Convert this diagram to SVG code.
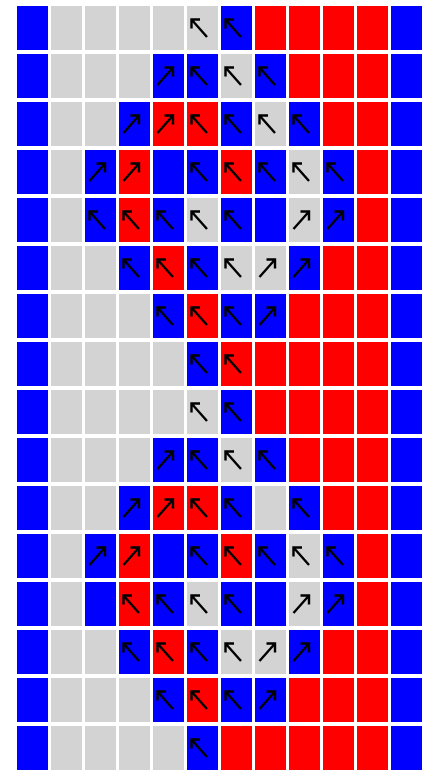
<svg xmlns="http://www.w3.org/2000/svg" width="427" height="772" viewBox="0 0 427 772">
<style>
.b{fill:#0000ff}.r{fill:#ff0000}.g{fill:#d3d3d3}
.ar{fill:none;stroke:#000;stroke-width:2.4;stroke-linejoin:miter}
</style>
<defs>
<path id="ul" class="ar" d="M13 13.5H4.5V22.5M4.5 13.5L20 31"/>
<path id="ur" class="ar" d="M11.5 13.5H20V22.5M20 13.5L4.5 31"/>
</defs>
<rect x="0" y="0" width="427" height="772" fill="#fff"/>
<g id="row0">
<g id="c0-0"><rect class="b" x="17" y="6" width="31" height="44"/></g>
<g id="c0-1"><rect class="g" x="51" y="6" width="31" height="44"/></g>
<g id="c0-2"><rect class="g" x="85" y="6" width="31" height="44"/></g>
<g id="c0-3"><rect class="g" x="119" y="6" width="31" height="44"/></g>
<g id="c0-4"><rect class="g" x="153" y="6" width="31" height="44"/></g>
<g id="c0-5"><rect class="g" x="187" y="6" width="31" height="44"/><use href="#ul" x="187" y="6"/></g>
<g id="c0-6"><rect class="b" x="221" y="6" width="31" height="44"/><use href="#ul" x="221" y="6"/></g>
<g id="c0-7"><rect class="r" x="255" y="6" width="31" height="44"/></g>
<g id="c0-8"><rect class="r" x="289" y="6" width="31" height="44"/></g>
<g id="c0-9"><rect class="r" x="323" y="6" width="31" height="44"/></g>
<g id="c0-10"><rect class="r" x="357" y="6" width="31" height="44"/></g>
<g id="c0-11"><rect class="b" x="391" y="6" width="31" height="44"/></g>
</g>
<g id="row1">
<g id="c1-0"><rect class="b" x="17" y="54" width="31" height="44"/></g>
<g id="c1-1"><rect class="g" x="51" y="54" width="31" height="44"/></g>
<g id="c1-2"><rect class="g" x="85" y="54" width="31" height="44"/></g>
<g id="c1-3"><rect class="g" x="119" y="54" width="31" height="44"/></g>
<g id="c1-4"><rect class="b" x="153" y="54" width="31" height="44"/><use href="#ur" x="153" y="54"/></g>
<g id="c1-5"><rect class="b" x="187" y="54" width="31" height="44"/><use href="#ul" x="187" y="54"/></g>
<g id="c1-6"><rect class="g" x="221" y="54" width="31" height="44"/><use href="#ul" x="221" y="54"/></g>
<g id="c1-7"><rect class="b" x="255" y="54" width="31" height="44"/><use href="#ul" x="255" y="54"/></g>
<g id="c1-8"><rect class="r" x="289" y="54" width="31" height="44"/></g>
<g id="c1-9"><rect class="r" x="323" y="54" width="31" height="44"/></g>
<g id="c1-10"><rect class="r" x="357" y="54" width="31" height="44"/></g>
<g id="c1-11"><rect class="b" x="391" y="54" width="31" height="44"/></g>
</g>
<g id="row2">
<g id="c2-0"><rect class="b" x="17" y="102" width="31" height="44"/></g>
<g id="c2-1"><rect class="g" x="51" y="102" width="31" height="44"/></g>
<g id="c2-2"><rect class="g" x="85" y="102" width="31" height="44"/></g>
<g id="c2-3"><rect class="b" x="119" y="102" width="31" height="44"/><use href="#ur" x="119" y="102"/></g>
<g id="c2-4"><rect class="r" x="153" y="102" width="31" height="44"/><use href="#ur" x="153" y="102"/></g>
<g id="c2-5"><rect class="r" x="187" y="102" width="31" height="44"/><use href="#ul" x="187" y="102"/></g>
<g id="c2-6"><rect class="b" x="221" y="102" width="31" height="44"/><use href="#ul" x="221" y="102"/></g>
<g id="c2-7"><rect class="g" x="255" y="102" width="31" height="44"/><use href="#ul" x="255" y="102"/></g>
<g id="c2-8"><rect class="b" x="289" y="102" width="31" height="44"/><use href="#ul" x="289" y="102"/></g>
<g id="c2-9"><rect class="r" x="323" y="102" width="31" height="44"/></g>
<g id="c2-10"><rect class="r" x="357" y="102" width="31" height="44"/></g>
<g id="c2-11"><rect class="b" x="391" y="102" width="31" height="44"/></g>
</g>
<g id="row3">
<g id="c3-0"><rect class="b" x="17" y="150" width="31" height="44"/></g>
<g id="c3-1"><rect class="g" x="51" y="150" width="31" height="44"/></g>
<g id="c3-2"><rect class="b" x="85" y="150" width="31" height="44"/><use href="#ur" x="85" y="150"/></g>
<g id="c3-3"><rect class="r" x="119" y="150" width="31" height="44"/><use href="#ur" x="119" y="150"/></g>
<g id="c3-4"><rect class="b" x="153" y="150" width="31" height="44"/></g>
<g id="c3-5"><rect class="b" x="187" y="150" width="31" height="44"/><use href="#ul" x="187" y="150"/></g>
<g id="c3-6"><rect class="r" x="221" y="150" width="31" height="44"/><use href="#ul" x="221" y="150"/></g>
<g id="c3-7"><rect class="b" x="255" y="150" width="31" height="44"/><use href="#ul" x="255" y="150"/></g>
<g id="c3-8"><rect class="g" x="289" y="150" width="31" height="44"/><use href="#ul" x="289" y="150"/></g>
<g id="c3-9"><rect class="b" x="323" y="150" width="31" height="44"/><use href="#ul" x="323" y="150"/></g>
<g id="c3-10"><rect class="r" x="357" y="150" width="31" height="44"/></g>
<g id="c3-11"><rect class="b" x="391" y="150" width="31" height="44"/></g>
</g>
<g id="row4">
<g id="c4-0"><rect class="b" x="17" y="198" width="31" height="44"/></g>
<g id="c4-1"><rect class="g" x="51" y="198" width="31" height="44"/></g>
<g id="c4-2"><rect class="b" x="85" y="198" width="31" height="44"/><use href="#ul" x="85" y="198"/></g>
<g id="c4-3"><rect class="r" x="119" y="198" width="31" height="44"/><use href="#ul" x="119" y="198"/></g>
<g id="c4-4"><rect class="b" x="153" y="198" width="31" height="44"/><use href="#ul" x="153" y="198"/></g>
<g id="c4-5"><rect class="g" x="187" y="198" width="31" height="44"/><use href="#ul" x="187" y="198"/></g>
<g id="c4-6"><rect class="b" x="221" y="198" width="31" height="44"/><use href="#ul" x="221" y="198"/></g>
<g id="c4-7"><rect class="b" x="255" y="198" width="31" height="44"/></g>
<g id="c4-8"><rect class="g" x="289" y="198" width="31" height="44"/><use href="#ur" x="289" y="198"/></g>
<g id="c4-9"><rect class="b" x="323" y="198" width="31" height="44"/><use href="#ur" x="323" y="198"/></g>
<g id="c4-10"><rect class="r" x="357" y="198" width="31" height="44"/></g>
<g id="c4-11"><rect class="b" x="391" y="198" width="31" height="44"/></g>
</g>
<g id="row5">
<g id="c5-0"><rect class="b" x="17" y="246" width="31" height="44"/></g>
<g id="c5-1"><rect class="g" x="51" y="246" width="31" height="44"/></g>
<g id="c5-2"><rect class="g" x="85" y="246" width="31" height="44"/></g>
<g id="c5-3"><rect class="b" x="119" y="246" width="31" height="44"/><use href="#ul" x="119" y="246"/></g>
<g id="c5-4"><rect class="r" x="153" y="246" width="31" height="44"/><use href="#ul" x="153" y="246"/></g>
<g id="c5-5"><rect class="b" x="187" y="246" width="31" height="44"/><use href="#ul" x="187" y="246"/></g>
<g id="c5-6"><rect class="g" x="221" y="246" width="31" height="44"/><use href="#ul" x="221" y="246"/></g>
<g id="c5-7"><rect class="g" x="255" y="246" width="31" height="44"/><use href="#ur" x="255" y="246"/></g>
<g id="c5-8"><rect class="b" x="289" y="246" width="31" height="44"/><use href="#ur" x="289" y="246"/></g>
<g id="c5-9"><rect class="r" x="323" y="246" width="31" height="44"/></g>
<g id="c5-10"><rect class="r" x="357" y="246" width="31" height="44"/></g>
<g id="c5-11"><rect class="b" x="391" y="246" width="31" height="44"/></g>
</g>
<g id="row6">
<g id="c6-0"><rect class="b" x="17" y="294" width="31" height="44"/></g>
<g id="c6-1"><rect class="g" x="51" y="294" width="31" height="44"/></g>
<g id="c6-2"><rect class="g" x="85" y="294" width="31" height="44"/></g>
<g id="c6-3"><rect class="g" x="119" y="294" width="31" height="44"/></g>
<g id="c6-4"><rect class="b" x="153" y="294" width="31" height="44"/><use href="#ul" x="153" y="294"/></g>
<g id="c6-5"><rect class="r" x="187" y="294" width="31" height="44"/><use href="#ul" x="187" y="294"/></g>
<g id="c6-6"><rect class="b" x="221" y="294" width="31" height="44"/><use href="#ul" x="221" y="294"/></g>
<g id="c6-7"><rect class="b" x="255" y="294" width="31" height="44"/><use href="#ur" x="255" y="294"/></g>
<g id="c6-8"><rect class="r" x="289" y="294" width="31" height="44"/></g>
<g id="c6-9"><rect class="r" x="323" y="294" width="31" height="44"/></g>
<g id="c6-10"><rect class="r" x="357" y="294" width="31" height="44"/></g>
<g id="c6-11"><rect class="b" x="391" y="294" width="31" height="44"/></g>
</g>
<g id="row7">
<g id="c7-0"><rect class="b" x="17" y="342" width="31" height="44"/></g>
<g id="c7-1"><rect class="g" x="51" y="342" width="31" height="44"/></g>
<g id="c7-2"><rect class="g" x="85" y="342" width="31" height="44"/></g>
<g id="c7-3"><rect class="g" x="119" y="342" width="31" height="44"/></g>
<g id="c7-4"><rect class="g" x="153" y="342" width="31" height="44"/></g>
<g id="c7-5"><rect class="b" x="187" y="342" width="31" height="44"/><use href="#ul" x="187" y="342"/></g>
<g id="c7-6"><rect class="r" x="221" y="342" width="31" height="44"/><use href="#ul" x="221" y="342"/></g>
<g id="c7-7"><rect class="r" x="255" y="342" width="31" height="44"/></g>
<g id="c7-8"><rect class="r" x="289" y="342" width="31" height="44"/></g>
<g id="c7-9"><rect class="r" x="323" y="342" width="31" height="44"/></g>
<g id="c7-10"><rect class="r" x="357" y="342" width="31" height="44"/></g>
<g id="c7-11"><rect class="b" x="391" y="342" width="31" height="44"/></g>
</g>
<g id="row8">
<g id="c8-0"><rect class="b" x="17" y="390" width="31" height="44"/></g>
<g id="c8-1"><rect class="g" x="51" y="390" width="31" height="44"/></g>
<g id="c8-2"><rect class="g" x="85" y="390" width="31" height="44"/></g>
<g id="c8-3"><rect class="g" x="119" y="390" width="31" height="44"/></g>
<g id="c8-4"><rect class="g" x="153" y="390" width="31" height="44"/></g>
<g id="c8-5"><rect class="g" x="187" y="390" width="31" height="44"/><use href="#ul" x="187" y="390"/></g>
<g id="c8-6"><rect class="b" x="221" y="390" width="31" height="44"/><use href="#ul" x="221" y="390"/></g>
<g id="c8-7"><rect class="r" x="255" y="390" width="31" height="44"/></g>
<g id="c8-8"><rect class="r" x="289" y="390" width="31" height="44"/></g>
<g id="c8-9"><rect class="r" x="323" y="390" width="31" height="44"/></g>
<g id="c8-10"><rect class="r" x="357" y="390" width="31" height="44"/></g>
<g id="c8-11"><rect class="b" x="391" y="390" width="31" height="44"/></g>
</g>
<g id="row9">
<g id="c9-0"><rect class="b" x="17" y="438" width="31" height="44"/></g>
<g id="c9-1"><rect class="g" x="51" y="438" width="31" height="44"/></g>
<g id="c9-2"><rect class="g" x="85" y="438" width="31" height="44"/></g>
<g id="c9-3"><rect class="g" x="119" y="438" width="31" height="44"/></g>
<g id="c9-4"><rect class="b" x="153" y="438" width="31" height="44"/><use href="#ur" x="153" y="438"/></g>
<g id="c9-5"><rect class="b" x="187" y="438" width="31" height="44"/><use href="#ul" x="187" y="438"/></g>
<g id="c9-6"><rect class="g" x="221" y="438" width="31" height="44"/><use href="#ul" x="221" y="438"/></g>
<g id="c9-7"><rect class="b" x="255" y="438" width="31" height="44"/><use href="#ul" x="255" y="438"/></g>
<g id="c9-8"><rect class="r" x="289" y="438" width="31" height="44"/></g>
<g id="c9-9"><rect class="r" x="323" y="438" width="31" height="44"/></g>
<g id="c9-10"><rect class="r" x="357" y="438" width="31" height="44"/></g>
<g id="c9-11"><rect class="b" x="391" y="438" width="31" height="44"/></g>
</g>
<g id="row10">
<g id="c10-0"><rect class="b" x="17" y="486" width="31" height="44"/></g>
<g id="c10-1"><rect class="g" x="51" y="486" width="31" height="44"/></g>
<g id="c10-2"><rect class="g" x="85" y="486" width="31" height="44"/></g>
<g id="c10-3"><rect class="b" x="119" y="486" width="31" height="44"/><use href="#ur" x="119" y="486"/></g>
<g id="c10-4"><rect class="r" x="153" y="486" width="31" height="44"/><use href="#ur" x="153" y="486"/></g>
<g id="c10-5"><rect class="r" x="187" y="486" width="31" height="44"/><use href="#ul" x="187" y="486"/></g>
<g id="c10-6"><rect class="b" x="221" y="486" width="31" height="44"/><use href="#ul" x="221" y="486"/></g>
<g id="c10-7"><rect class="g" x="255" y="486" width="31" height="44"/></g>
<g id="c10-8"><rect class="b" x="289" y="486" width="31" height="44"/><use href="#ul" x="289" y="486"/></g>
<g id="c10-9"><rect class="r" x="323" y="486" width="31" height="44"/></g>
<g id="c10-10"><rect class="r" x="357" y="486" width="31" height="44"/></g>
<g id="c10-11"><rect class="b" x="391" y="486" width="31" height="44"/></g>
</g>
<g id="row11">
<g id="c11-0"><rect class="b" x="17" y="534" width="31" height="44"/></g>
<g id="c11-1"><rect class="g" x="51" y="534" width="31" height="44"/></g>
<g id="c11-2"><rect class="b" x="85" y="534" width="31" height="44"/><use href="#ur" x="85" y="534"/></g>
<g id="c11-3"><rect class="r" x="119" y="534" width="31" height="44"/><use href="#ur" x="119" y="534"/></g>
<g id="c11-4"><rect class="b" x="153" y="534" width="31" height="44"/></g>
<g id="c11-5"><rect class="b" x="187" y="534" width="31" height="44"/><use href="#ul" x="187" y="534"/></g>
<g id="c11-6"><rect class="r" x="221" y="534" width="31" height="44"/><use href="#ul" x="221" y="534"/></g>
<g id="c11-7"><rect class="b" x="255" y="534" width="31" height="44"/><use href="#ul" x="255" y="534"/></g>
<g id="c11-8"><rect class="g" x="289" y="534" width="31" height="44"/><use href="#ul" x="289" y="534"/></g>
<g id="c11-9"><rect class="b" x="323" y="534" width="31" height="44"/><use href="#ul" x="323" y="534"/></g>
<g id="c11-10"><rect class="r" x="357" y="534" width="31" height="44"/></g>
<g id="c11-11"><rect class="b" x="391" y="534" width="31" height="44"/></g>
</g>
<g id="row12">
<g id="c12-0"><rect class="b" x="17" y="582" width="31" height="44"/></g>
<g id="c12-1"><rect class="g" x="51" y="582" width="31" height="44"/></g>
<g id="c12-2"><rect class="b" x="85" y="582" width="31" height="44"/></g>
<g id="c12-3"><rect class="r" x="119" y="582" width="31" height="44"/><use href="#ul" x="119" y="582"/></g>
<g id="c12-4"><rect class="b" x="153" y="582" width="31" height="44"/><use href="#ul" x="153" y="582"/></g>
<g id="c12-5"><rect class="g" x="187" y="582" width="31" height="44"/><use href="#ul" x="187" y="582"/></g>
<g id="c12-6"><rect class="b" x="221" y="582" width="31" height="44"/><use href="#ul" x="221" y="582"/></g>
<g id="c12-7"><rect class="b" x="255" y="582" width="31" height="44"/></g>
<g id="c12-8"><rect class="g" x="289" y="582" width="31" height="44"/><use href="#ur" x="289" y="582"/></g>
<g id="c12-9"><rect class="b" x="323" y="582" width="31" height="44"/><use href="#ur" x="323" y="582"/></g>
<g id="c12-10"><rect class="r" x="357" y="582" width="31" height="44"/></g>
<g id="c12-11"><rect class="b" x="391" y="582" width="31" height="44"/></g>
</g>
<g id="row13">
<g id="c13-0"><rect class="b" x="17" y="630" width="31" height="44"/></g>
<g id="c13-1"><rect class="g" x="51" y="630" width="31" height="44"/></g>
<g id="c13-2"><rect class="g" x="85" y="630" width="31" height="44"/></g>
<g id="c13-3"><rect class="b" x="119" y="630" width="31" height="44"/><use href="#ul" x="119" y="630"/></g>
<g id="c13-4"><rect class="r" x="153" y="630" width="31" height="44"/><use href="#ul" x="153" y="630"/></g>
<g id="c13-5"><rect class="b" x="187" y="630" width="31" height="44"/><use href="#ul" x="187" y="630"/></g>
<g id="c13-6"><rect class="g" x="221" y="630" width="31" height="44"/><use href="#ul" x="221" y="630"/></g>
<g id="c13-7"><rect class="g" x="255" y="630" width="31" height="44"/><use href="#ur" x="255" y="630"/></g>
<g id="c13-8"><rect class="b" x="289" y="630" width="31" height="44"/><use href="#ur" x="289" y="630"/></g>
<g id="c13-9"><rect class="r" x="323" y="630" width="31" height="44"/></g>
<g id="c13-10"><rect class="r" x="357" y="630" width="31" height="44"/></g>
<g id="c13-11"><rect class="b" x="391" y="630" width="31" height="44"/></g>
</g>
<g id="row14">
<g id="c14-0"><rect class="b" x="17" y="678" width="31" height="44"/></g>
<g id="c14-1"><rect class="g" x="51" y="678" width="31" height="44"/></g>
<g id="c14-2"><rect class="g" x="85" y="678" width="31" height="44"/></g>
<g id="c14-3"><rect class="g" x="119" y="678" width="31" height="44"/></g>
<g id="c14-4"><rect class="b" x="153" y="678" width="31" height="44"/><use href="#ul" x="153" y="678"/></g>
<g id="c14-5"><rect class="r" x="187" y="678" width="31" height="44"/><use href="#ul" x="187" y="678"/></g>
<g id="c14-6"><rect class="b" x="221" y="678" width="31" height="44"/><use href="#ul" x="221" y="678"/></g>
<g id="c14-7"><rect class="b" x="255" y="678" width="31" height="44"/><use href="#ur" x="255" y="678"/></g>
<g id="c14-8"><rect class="r" x="289" y="678" width="31" height="44"/></g>
<g id="c14-9"><rect class="r" x="323" y="678" width="31" height="44"/></g>
<g id="c14-10"><rect class="r" x="357" y="678" width="31" height="44"/></g>
<g id="c14-11"><rect class="b" x="391" y="678" width="31" height="44"/></g>
</g>
<g id="row15">
<g id="c15-0"><rect class="b" x="17" y="726" width="31" height="44"/></g>
<g id="c15-1"><rect class="g" x="51" y="726" width="31" height="44"/></g>
<g id="c15-2"><rect class="g" x="85" y="726" width="31" height="44"/></g>
<g id="c15-3"><rect class="g" x="119" y="726" width="31" height="44"/></g>
<g id="c15-4"><rect class="g" x="153" y="726" width="31" height="44"/></g>
<g id="c15-5"><rect class="b" x="187" y="726" width="31" height="44"/><use href="#ul" x="187" y="726"/></g>
<g id="c15-6"><rect class="r" x="221" y="726" width="31" height="44"/></g>
<g id="c15-7"><rect class="r" x="255" y="726" width="31" height="44"/></g>
<g id="c15-8"><rect class="r" x="289" y="726" width="31" height="44"/></g>
<g id="c15-9"><rect class="r" x="323" y="726" width="31" height="44"/></g>
<g id="c15-10"><rect class="r" x="357" y="726" width="31" height="44"/></g>
<g id="c15-11"><rect class="b" x="391" y="726" width="31" height="44"/></g>
</g>
</svg>
